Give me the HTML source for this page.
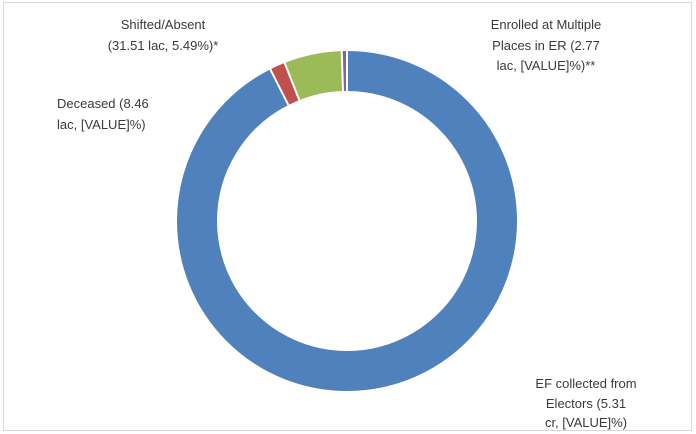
<!DOCTYPE html>
<html><head><style>
html,body{margin:0;padding:0;background:#fff;}
svg{display:block;}
text{font-family:"Liberation Sans",sans-serif;font-size:13px;fill:#3a3a3a;}
</style></head><body>
<svg width="696" height="434" viewBox="0 0 696 434">
<rect x="3.5" y="2.5" width="688" height="428" fill="#fff" stroke="#d9d9d9"/>
<g transform="rotate(-90 347 221)">
<circle cx="347" cy="221" r="150" fill="none" stroke="#4f81bd" stroke-width="40" stroke-dasharray="872.3 1000"/>
<circle cx="347" cy="221" r="150" fill="none" stroke="#c0504d" stroke-width="40" stroke-dasharray="0 872.3 13.85 1000"/>
<circle cx="347" cy="221" r="150" fill="none" stroke="#9bbb59" stroke-width="40" stroke-dasharray="0 886.15 51.74 1000"/>
<circle cx="347" cy="221" r="150" fill="none" stroke="#8064a2" stroke-width="40" stroke-dasharray="0 937.89 4.6 1000"/>
</g>
<g stroke="#fff" stroke-width="2">
<line x1="347" y1="221" x2="347" y2="45" transform="rotate(0 347 221)"/>
<line x1="347" y1="91" x2="347" y2="45" transform="rotate(333.18 347 221)"/>
<line x1="347" y1="91" x2="347" y2="45" transform="rotate(338.47 347 221)"/>
<line x1="347" y1="91" x2="347" y2="45" transform="rotate(358.23 347 221)"/>
</g>
<circle cx="347" cy="221" r="129" fill="#fff"/>
<text x="163" y="29" text-anchor="middle">Shifted/Absent</text>
<text x="163" y="50" text-anchor="middle">(31.51 lac, 5.49%)*</text>
<text x="546" y="29" text-anchor="middle">Enrolled at Multiple</text>
<text x="546" y="50" text-anchor="middle">Places in ER (2.77</text>
<text x="546" y="70" text-anchor="middle">lac, [VALUE]%)**</text>
<text x="57" y="108">Deceased (8.46</text>
<text x="57" y="129">lac, [VALUE]%)</text>
<text x="586" y="388" text-anchor="middle">EF collected from</text>
<text x="586" y="408" text-anchor="middle">Electors (5.31</text>
<text x="586" y="427" text-anchor="middle">cr, [VALUE]%)</text>
</svg>
</body></html>
